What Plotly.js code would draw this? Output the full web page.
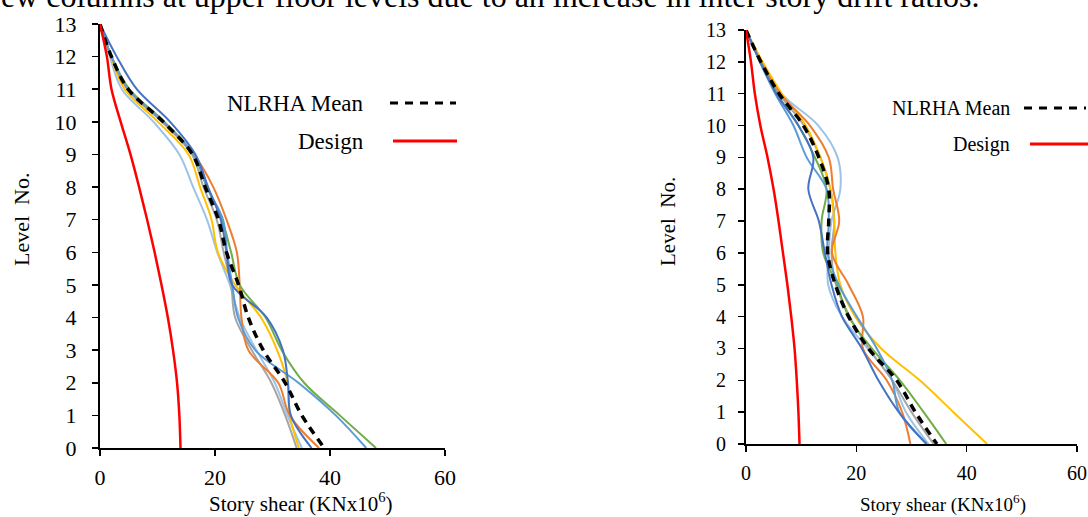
<!DOCTYPE html>
<html>
<head>
<meta charset="utf-8">
<script src="https://cdn.plot.ly/plotly-3.0.1.min.js"></script>
<style>
html,body{margin:0;padding:0;background:#fff;}
#chart{width:1088px;height:517px;}
</style>
</head>
<body>
<div id="chart"></div>
<script>
// Levels (top to bottom)
const levels = [13,12,11,10,9,8,7,6,5,4,3,2,1,0];
const xTicks = [0,20,40,60];

// Left chart (story shear, KN x 10^6)
const leftMean   = [0, 2.0, 4.9, 11.0, 16.1, 18.3, 20.6, 22.0, 24.1, 25.8, 28.4, 32.2, 35.1, 39.0];
const leftDesign = [0, 1.2, 2.0, 3.6, 5.3, 6.8, 8.2, 9.5, 10.7, 11.8, 12.7, 13.4, 13.8, 14.0];
const leftGM1 = [0, 2.9, 6.4, 12.2, 16.6, 18.8, 21.0, 22.0, 23.0, 29.0, 31.8, 32.7, 33.2, 36.8];
const leftGM2 = [0, 2.0, 4.8, 10.9, 16.3, 19.7, 22.0, 23.8, 24.3, 24.6, 25.8, 31.0, 33.0, 38.1];
const leftGM3 = [0, 2.0, 4.8, 10.8, 16.0, 18.0, 20.3, 21.5, 22.8, 23.5, 26.4, 29.8, 32.2, 34.2];
const leftGM4 = [0, 1.9, 4.3, 10.1, 15.4, 17.4, 19.4, 20.5, 23.5, 28.0, 30.8, 32.6, 33.0, 34.6];
const leftGM5 = [0, 2.0, 4.9, 11.0, 16.3, 18.6, 21.4, 22.1, 23.0, 24.0, 27.0, 34.5, 41.0, 46.3];
const leftGM6 = [0, 2.0, 5.1, 11.2, 16.3, 18.6, 21.2, 22.8, 24.3, 28.8, 31.6, 35.5, 41.7, 48.0];
const leftGM7 = [0, 1.7, 3.8, 9.3, 13.8, 16.2, 18.6, 20.4, 22.6, 24.3, 27.2, 30.4, 32.6, 35.1];

// Right chart
const rightMean   = [0, 2.7, 6.0, 10.4, 13.2, 15.0, 15.0, 14.8, 16.2, 18.6, 22.2, 27.3, 30.7, 34.6];
const rightDesign = [0, 0.9, 1.6, 2.6, 3.9, 5.0, 5.9, 6.7, 7.5, 8.2, 8.8, 9.2, 9.5, 9.7];
const rightGM1 = [0, 2.6, 5.5, 9.5, 12.2, 11.3, 13.2, 14.3, 15.5, 17.4, 21.0, 24.0, 27.7, 32.7];
const rightGM2 = [0, 2.7, 6.2, 11.6, 15.0, 15.8, 16.9, 15.6, 18.6, 21.2, 21.2, 25.5, 28.3, 29.8];
const rightGM3 = [0, 2.7, 6.0, 10.5, 13.5, 15.3, 16.0, 15.5, 16.3, 18.8, 22.3, 26.5, 30.0, 34.0];
const rightGM4 = [0, 3.0, 6.5, 10.8, 13.5, 15.3, 16.0, 16.2, 17.1, 19.8, 24.5, 31.5, 37.6, 43.7];
const rightGM5 = [0, 2.5, 5.3, 8.6, 11.0, 14.6, 15.0, 14.8, 16.8, 20.1, 23.7, 26.5, 27.8, 32.8];
const rightGM6 = [0, 2.6, 5.6, 9.5, 12.5, 14.6, 13.7, 14.0, 16.5, 18.6, 22.8, 27.9, 32.2, 36.3];
const rightGM7 = [0, 2.8, 6.4, 13.1, 16.6, 17.1, 15.5, 15.0, 14.9, 17.4, 22.0, 26.5, 29.0, 33.1];

const gmColors = ['#4472C4','#ED7D31','#A5A5A5','#FFC000','#5B9BD5','#70AD47','#9DC3E6'];
const drawOrder = [6,2,3,1,5,4,0];
const FONT = '"Times New Roman", "Liberation Serif", "DejaVu Serif", serif';

function gmTraces(list, xa, ya){
  return drawOrder.map(i => ({
    x: list[i], y: levels, xaxis: xa, yaxis: ya, type:'scatter', mode:'lines',
    line:{color: gmColors[i], width:2, shape:'spline', smoothing:1},
    hoverinfo:'skip', showlegend:false
  }));
}
function meanTrace(x, xa, ya){
  return {x:x, y:levels, xaxis:xa, yaxis:ya, type:'scatter', mode:'lines',
    line:{color:'#000', width:3.5, dash:'8px,6px', shape:'spline', smoothing:1}, showlegend:false, hoverinfo:'skip'};
}
function designTrace(x, xa, ya){
  return {x:x, y:levels, xaxis:xa, yaxis:ya, type:'scatter', mode:'lines',
    line:{color:'#FF0000', width:2.5, shape:'spline', smoothing:1}, showlegend:false, hoverinfo:'skip'};
}

const data = [].concat(
  gmTraces([leftGM1,leftGM2,leftGM3,leftGM4,leftGM5,leftGM6,leftGM7],'x','y'),
  [meanTrace(leftMean,'x','y'), designTrace(leftDesign,'x','y')],
  gmTraces([rightGM1,rightGM2,rightGM3,rightGM4,rightGM5,rightGM6,rightGM7],'x2','y2'),
  [meanTrace(rightMean,'x2','y2'), designTrace(rightDesign,'x2','y2')]
);

const W = 1088, H = 517;
const px = v => v / W;
const py = v => 1 - v / H;

function xAxis(dom, size, stand){
  return {domain:dom, range:[0,60], tickvals:xTicks, ticks:'outside', ticklen:6, tickwidth:1.5,
    tickcolor:'#000', showline:true, linewidth:2, linecolor:'#000', showgrid:false, zeroline:false,
    tickfont:{family:FONT, size:size, color:'#000'}, ticklabelstandoff:stand, fixedrange:true};
}
function yAxis(dom, size, stand, anchor){
  return {domain:dom, range:[0,13], dtick:1, tick0:0, ticks:'outside', ticklen:6, tickwidth:1.5,
    tickcolor:'#000', showline:true, linewidth:2, linecolor:'#000', showgrid:false, zeroline:false,
    tickfont:{family:FONT, size:size, color:'#000'}, ticklabelstandoff:stand, anchor:anchor, fixedrange:true};
}

function ann(text, x, y, size, opts){
  return Object.assign({text:text, xref:'paper', yref:'paper', x:px(x), y:py(y), showarrow:false,
    font:{family:FONT, size:size, color:'#000'}, xanchor:'center', yanchor:'middle'}, opts||{});
}
function seg(x0, x1, y, color, dash, width){
  return {type:'line', xref:'paper', yref:'paper', x0:px(x0), x1:px(x1), y0:py(y), y1:py(y),
    line:{color:color, width:width, dash:dash}};
}

const layout = {
  width:W, height:H, margin:{l:0,r:0,t:0,b:0}, paper_bgcolor:'#fff', plot_bgcolor:'#fff',
  showlegend:false,
  xaxis: Object.assign(xAxis([px(100), px(445)], 22, 3), {anchor:'y'}),
  yaxis: yAxis([py(448), py(24)], 22, 11, 'x'),
  xaxis2: Object.assign(xAxis([px(746), px(1077)], 20, 4), {anchor:'y2'}),
  yaxis2: yAxis([py(444), py(30)], 20, 8, 'x2'),
  annotations:[
    ann('ew columns at upper floor levels due to an increase in inter story drift ratios.', -1, -4, 32, {xanchor:'left'}),
    ann('Level\u00a0\u00a0No.', 22, 220, 22, {textangle:-90}),
    ann('Story shear (KNx10<sup>6</sup>)', 300, 502, 21),
    ann('NLRHA Mean', 366, 103, 23, {xanchor:'right'}),
    ann('Design', 366, 141, 23, {xanchor:'right'}),
    ann('Level\u00a0\u00a0No.', 668, 222, 21, {textangle:-90}),
    ann('Story shear (KNx10<sup>6</sup>)', 943, 503, 19),
    ann('NLRHA Mean', 1012, 108, 20, {xanchor:'right'}),
    ann('Design', 1012, 144, 20, {xanchor:'right'})
  ],
  shapes:[
    seg(390, 456, 103, '#000', '8px,7px', 3),
    seg(393, 457, 141, '#FF0000', 'solid', 3),
    seg(1024, 1086, 108, '#000', '8px,7px', 3),
    seg(1030, 1088, 144, '#FF0000', 'solid', 3)
  ]
};

Plotly.newPlot('chart', data, layout, {staticPlot:true, displayModeBar:false});
</script>
</body>
</html>
